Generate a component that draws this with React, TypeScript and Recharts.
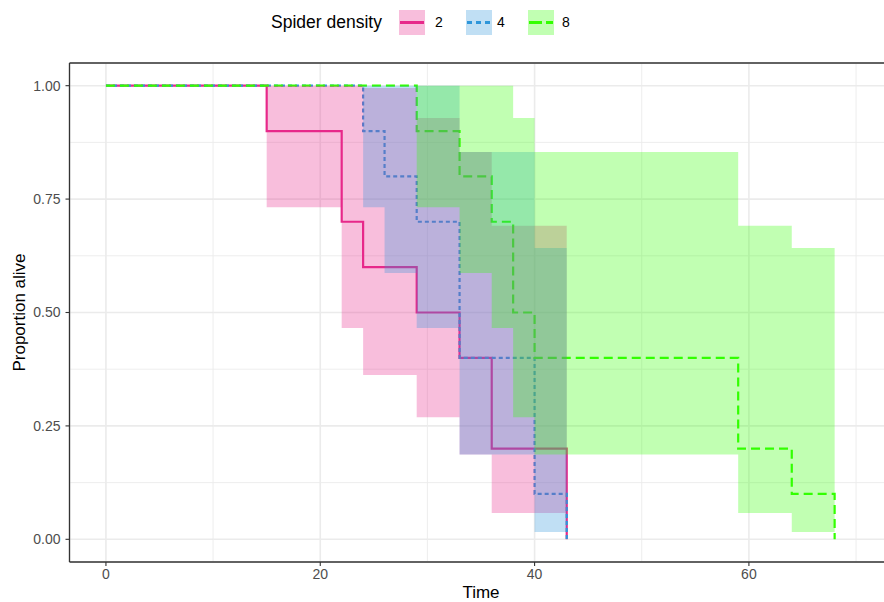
import React from "react";
import {
  ComposedChart,
  Line,
  Area,
  XAxis,
  YAxis,
  CartesianGrid,
  ReferenceLine,
} from "recharts";

// Kaplan-Meier estimates per spider density, with 95% CI bounds
const density2Time = [0, 15, 22, 24, 29, 33, 36, 43];
const density2Surv = [1, 0.9, 0.7, 0.6, 0.5, 0.4, 0.2, 0];
const density2Lower = [1, 0.732, 0.466, 0.362, 0.269, 0.187, 0.058, 0.058];
const density2Upper = [1, 1, 1, 0.995, 0.929, 0.854, 0.691, 0.691];

const density4Time = [0, 24, 26, 29, 33, 40, 43];
const density4Surv = [1, 0.9, 0.8, 0.7, 0.4, 0.1, 0];
const density4Lower = [1, 0.732, 0.587, 0.466, 0.187, 0.016, 0.016];
const density4Upper = [1, 1, 1, 1, 0.854, 0.642, 0.642];

const density8Time = [0, 29, 33, 36, 38, 40, 59, 64, 68];
const density8Surv = [1, 0.9, 0.8, 0.7, 0.5, 0.4, 0.2, 0.1, 0];
const density8Lower = [1, 0.732, 0.587, 0.466, 0.269, 0.187, 0.058, 0.016, 0.016];
const density8Upper = [1, 1, 1, 1, 0.929, 0.854, 0.691, 0.642, 0.642];

const xTicks = [0, 20, 40, 60];
const xMinor = [10, 30, 50, 70];
const yTicks = [0, 0.25, 0.5, 0.75, 1];
const yMinor = [0.125, 0.375, 0.625, 0.875];

const PINK = "#E7298A";
const BLUE = "#2E96DA";
const GREEN = "#33FF00";

const toRows = (time: number[], surv: number[], lower: number[], upper: number[]) =>
  time.map((t, i) => ({ time: t, surv: surv[i], band: [lower[i], upper[i]] }));

const groups = [
  { name: "2", color: PINK, dash: undefined, keyDash: undefined, rows: toRows(density2Time, density2Surv, density2Lower, density2Upper), left: 399, labelLeft: 435 },
  { name: "4", color: BLUE, dash: "4 3", keyDash: "5 4", rows: toRows(density4Time, density4Surv, density4Lower, density4Upper), left: 466, labelLeft: 497 },
  { name: "8", color: GREEN, dash: "9 5", keyDash: "13 4", rows: toRows(density8Time, density8Surv, density8Lower, density8Upper), left: 528, labelLeft: 562 },
];

const tickStyle = { fill: "#4D4D4D", fontSize: 14 };

const App: React.FC = () => {
  return (
    <div
      style={{
        position: "absolute",
        left: 0,
        top: 0,
        width: 884,
        height: 602,
        overflow: "hidden",
        background: "#fff",
        fontFamily: "'Liberation Sans', Arial, sans-serif",
      }}
    >
      {/* legend */}
      <div
        style={{
          position: "absolute",
          left: 271,
          top: 10,
          height: 25,
          lineHeight: "25px",
          fontSize: 17.5,
          color: "#000",
          whiteSpace: "nowrap",
        }}
      >
        Spider density
      </div>
      {groups.map(g => (
        <React.Fragment key={g.name}>
          <svg
            width={26}
            height={25}
            style={{ position: "absolute", left: g.left, top: 10 }}
          >
            <rect x={0} y={0} width={26} height={25} fill={g.color} fillOpacity={0.3} />
            <line
              x1={1}
              x2={25}
              y1={12.5}
              y2={12.5}
              stroke={g.color}
              strokeWidth={3}
              strokeDasharray={g.keyDash}
            />
          </svg>
          <div
            style={{
              position: "absolute",
              left: g.labelLeft,
              top: 10,
              height: 25,
              lineHeight: "25px",
              fontSize: 14,
              color: "#000",
            }}
          >
            {g.name}
          </div>
        </React.Fragment>
      ))}

      <ComposedChart
        width={900}
        height={602}
        margin={{ top: 63, right: 7.5, bottom: 0, left: 9.5 }}
      >
        <CartesianGrid stroke="#EBEBEB" strokeWidth={1.6} />
        {xMinor.map(v => (
          <ReferenceLine key={"mx" + v} x={v} stroke="#EBEBEB" strokeWidth={0.9} zIndex={-100} />
        ))}
        {yMinor.map(v => (
          <ReferenceLine key={"my" + v} y={v} stroke="#EBEBEB" strokeWidth={0.9} zIndex={-100} />
        ))}
        <XAxis
          type="number"
          dataKey="time"
          domain={[-3.4, 73.4]}
          ticks={xTicks}
          allowDataOverflow
          height={40}
          tickSize={4}
          tickMargin={3}
          tick={tickStyle}
          stroke="#333333"
          axisLine={{ stroke: "#333333", strokeWidth: 1.3 }}
          tickLine={{ stroke: "#333333", strokeWidth: 1.1 }}
          label={{ value: "Time", position: "insideBottom", offset: 4, fill: "#000", fontSize: 17 }}
        />
        <YAxis
          type="number"
          domain={[-0.05, 1.05]}
          ticks={yTicks}
          allowDataOverflow
          width={60}
          tickSize={4}
          tickMargin={5}
          tick={tickStyle}
          tickFormatter={(v: number) => v.toFixed(2)}
          axisLine={{ stroke: "#333333", strokeWidth: 1.3 }}
          tickLine={{ stroke: "#333333", strokeWidth: 1.1 }}
          label={{
            value: "Proportion alive",
            angle: -90,
            position: "insideLeft",
            offset: 9,
            fill: "#000",
            fontSize: 17,
            style: { textAnchor: "middle" },
          }}
        />
        {groups.map(g => (
          <Line
            key={"line" + g.name}
            data={g.rows}
            dataKey="surv"
            type="stepAfter"
            stroke={g.color}
            strokeWidth={2.2}
            strokeDasharray={g.dash}
            dot={false}
            activeDot={false}
            isAnimationActive={false}
            zIndex={400}
          />
        ))}
        {groups.map(g => (
          <Area
            key={"band" + g.name}
            data={g.rows}
            dataKey="band"
            type="stepAfter"
            fill={g.color}
            fillOpacity={0.3}
            stroke="none"
            dot={false}
            activeDot={false}
            isAnimationActive={false}
            zIndex={450}
          />
        ))}
        <ReferenceLine y={1.05} stroke="#333333" strokeWidth={1.3} zIndex={600} />
      </ComposedChart>
    </div>
  );
};

export default App;
